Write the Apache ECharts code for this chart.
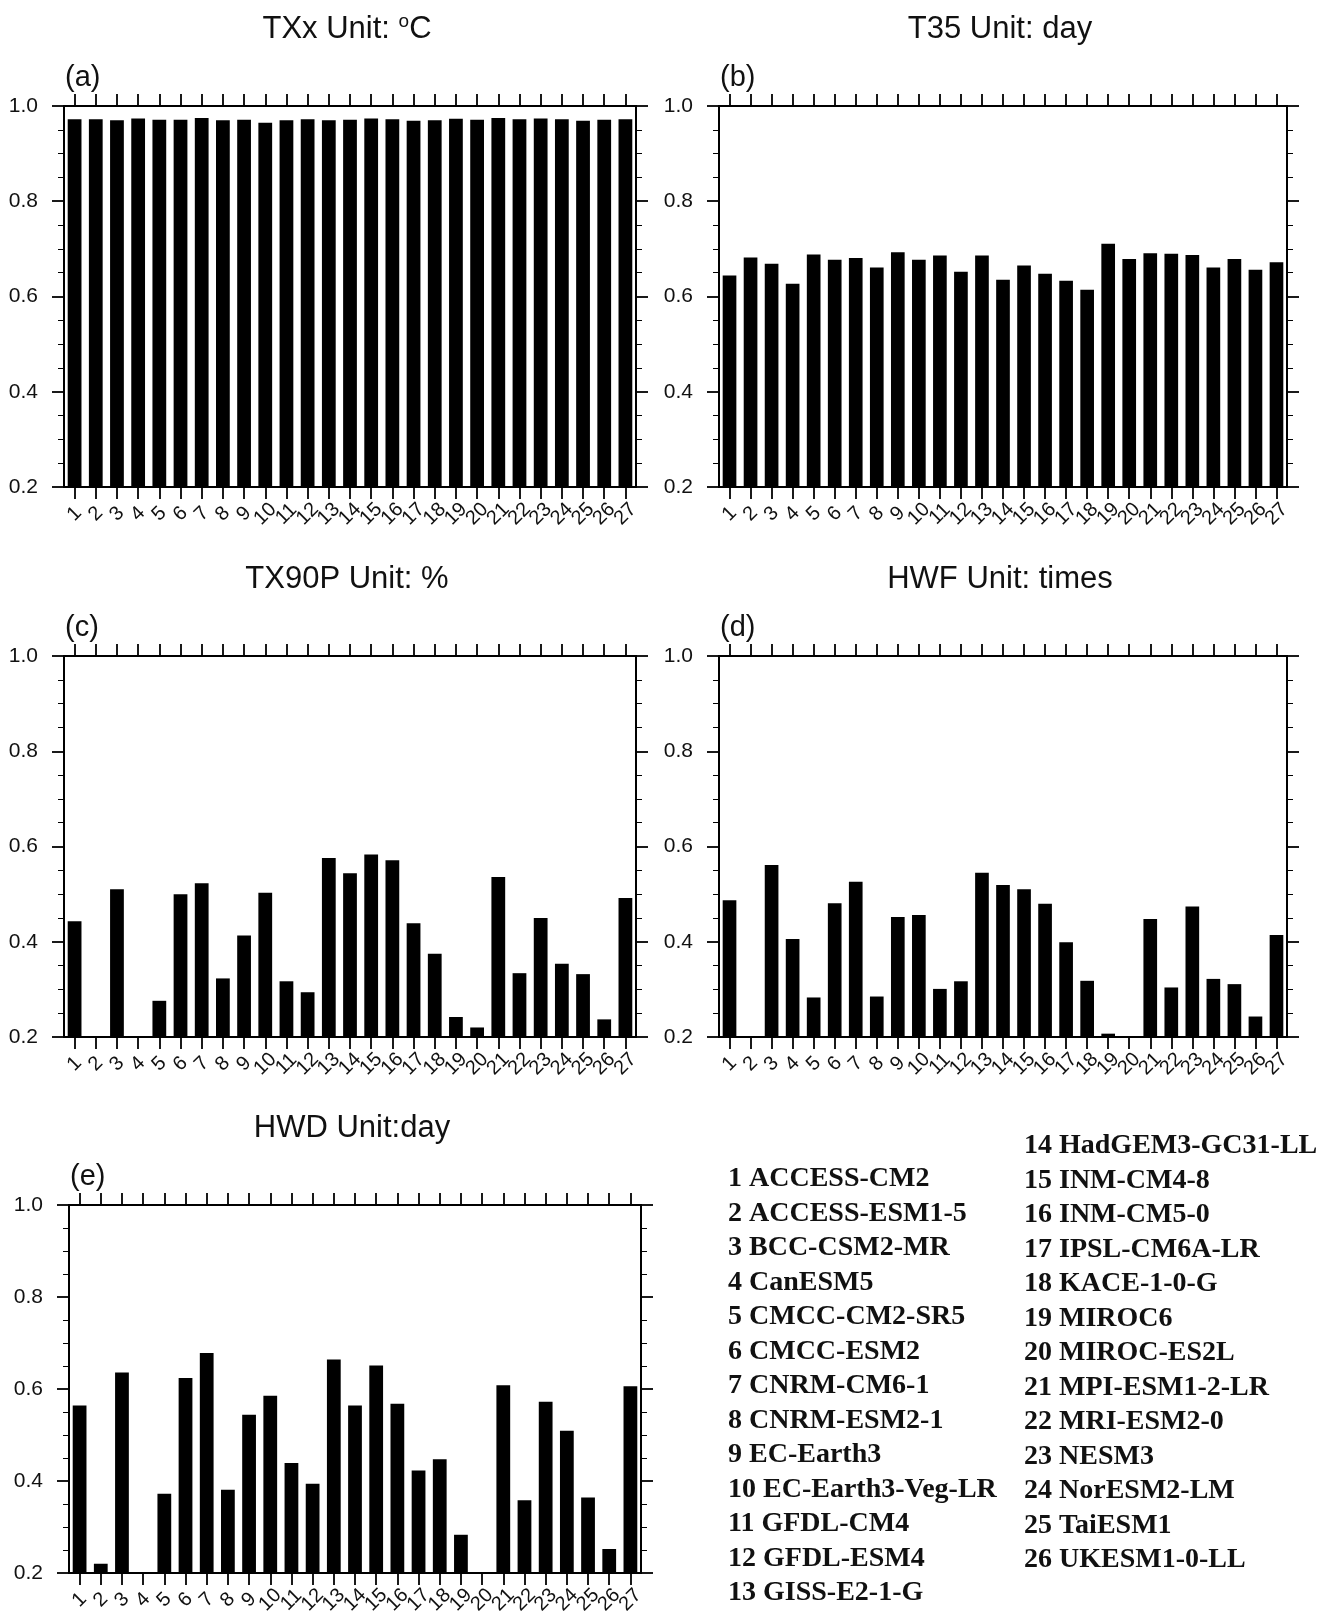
<!DOCTYPE html>
<html>
<head>
<meta charset="utf-8">
<script src="https://cdn.jsdelivr.net/npm/echarts@6/dist/echarts.min.js"></script>
<style>
  html, body { margin: 0; padding: 0; background: #fff; }
  #chart { width: 1341px; height: 1617px; }
</style>
</head>
<body>
<div id="chart"></div>
<script>
// model numbers on the x axis
const cats = ['1','2','3','4','5','6','7','8','9','10','11','12','13','14','15','16','17','18','19','20','21','22','23','24','25','26','27'];

// values (null = bar below 0.2, not drawn)
const txx   = [0.972,0.972,0.970,0.974,0.971,0.971,0.975,0.970,0.971,0.965,0.970,0.972,0.970,0.971,0.974,0.972,0.969,0.970,0.973,0.971,0.975,0.972,0.974,0.972,0.969,0.971,0.972];
const t35   = [0.644,0.682,0.669,0.627,0.688,0.677,0.681,0.661,0.693,0.677,0.686,0.652,0.686,0.635,0.665,0.648,0.633,0.614,0.711,0.679,0.691,0.690,0.687,0.661,0.679,0.656,0.672];
const tx90p = [0.443,null,0.510,null,0.276,0.500,0.523,0.323,0.413,0.503,0.317,0.294,0.576,0.544,0.583,0.571,0.439,0.375,0.242,0.220,0.536,0.334,0.450,0.354,0.332,0.237,0.492];
const hwf   = [0.487,null,0.561,0.406,0.283,0.481,0.526,0.285,0.452,0.456,0.301,0.317,0.545,0.519,0.510,0.480,0.399,0.318,0.207,null,0.448,0.304,0.474,0.322,0.311,0.243,0.414];
const hwd   = [0.564,0.220,0.636,null,0.372,0.624,0.678,0.381,0.544,0.585,0.439,0.394,0.664,0.564,0.651,0.568,0.423,0.447,0.283,null,0.608,0.358,0.572,0.509,0.364,0.252,0.606];

const titles = ['TXx Unit: {sup|o}C', 'T35 Unit: day', 'TX90P Unit: %', 'HWF Unit: times', 'HWD Unit:day'];
const tags = ['(a)', '(b)', '(c)', '(d)', '(e)'];

const models = ['ACCESS-CM2','ACCESS-ESM1-5','BCC-CSM2-MR','CanESM5','CMCC-CM2-SR5','CMCC-ESM2','CNRM-CM6-1','CNRM-ESM2-1','EC-Earth3','EC-Earth3-Veg-LR','GFDL-CM4','GFDL-ESM4','GISS-E2-1-G','HadGEM3-GC31-LL','INM-CM4-8','INM-CM5-0','IPSL-CM6A-LR','KACE-1-0-G','MIROC6','MIROC-ES2L','MPI-ESM1-2-LR','MRI-ESM2-0','NESM3','NorESM2-LM','TaiESM1','UKESM1-0-LL'];

const data = [txx, t35, tx90p, hwf, hwd];

const grids = [
  { left: 64,  top: 106,  width: 572, height: 381 },
  { left: 719, top: 106,  width: 568, height: 381 },
  { left: 64,  top: 656,  width: 572, height: 381 },
  { left: 719, top: 656,  width: 568, height: 381 },
  { left: 69,  top: 1205, width: 572, height: 382 }
];

const sans = 'Liberation Sans, Arial, sans-serif';
const serif = 'Liberation Serif, Times New Roman, serif';

let xAxis = [], yAxis = [], series = [], graphic = [];

grids.forEach((g, i) => {
  g.show = true;
  g.borderColor = '#000';
  g.borderWidth = 2;
  g.containLabel = false;

  const tick = { show: true, interval: 0, alignWithLabel: true, length: 12,
                 lineStyle: { color: '#000', width: 1.8 } };
  xAxis.push({
    type: 'category', gridIndex: i, position: 'bottom', data: cats,
    axisLine: { show: true, lineStyle: { color: '#000', width: 2 } },
    axisTick: tick,
    axisLabel: { rotate: 45, fontSize: 20, fontFamily: sans, color: '#111',
                 margin: 27, interval: 0, align: 'center', verticalAlign: 'middle' }
  });
  xAxis.push({
    type: 'category', gridIndex: i, position: 'top', data: cats,
    axisLine: { show: true, lineStyle: { color: '#000', width: 2 } },
    axisTick: tick,
    axisLabel: { show: false }
  });
  const yBase = {
    type: 'value', gridIndex: i, min: 0.2, max: 1.0, interval: 0.2,
    splitLine: { show: false },
    axisLine: { show: true, lineStyle: { color: '#000', width: 2 } },
    axisTick: { show: true, length: 12, lineStyle: { color: '#000', width: 1.8 } },
    minorTick: { show: true, splitNumber: 4, length: 6, lineStyle: { color: '#000', width: 1 } }
  };
  yAxis.push(Object.assign({}, yBase, {
    position: 'left',
    axisLabel: { fontSize: 21, fontFamily: sans, color: '#111', margin: 26,
                 formatter: v => v.toFixed(1) }
  }));
  yAxis.push(Object.assign({}, yBase, {
    position: 'right',
    axisLabel: { show: false }
  }));

  series.push({
    type: 'bar', xAxisIndex: 2 * i, yAxisIndex: 2 * i,
    data: data[i], barWidth: '65%',
    itemStyle: { color: '#000' },
    silent: true
  });

  // panel title and tag
  graphic.push({
    type: 'text', x: g.left + g.width / 2 - 3, y: g.top - 77,
    style: { text: titles[i], fontSize: 31, fontFamily: sans, fill: '#111',
             align: 'center', verticalAlign: 'middle',
             rich: { sup: { fontSize: 19, fontFamily: sans, fill: '#111', verticalAlign: 'top', padding: [0, 0, 14, 0] } } }
  });
  graphic.push({
    type: 'text', x: g.left + 1, y: g.top - 28,
    style: { text: tags[i], fontSize: 29, fontFamily: sans, fill: '#111',
             align: 'left', verticalAlign: 'middle' }
  });
});

// model list
models.forEach((m, k) => {
  const col = k < 13 ? 0 : 1;
  const row = k % 13;
  graphic.push({
    type: 'text',
    x: col === 0 ? 728 : 1024,
    y: (col === 0 ? 1179 : 1146) + row * 34.5,
    style: { text: (k + 1) + ' ' + m, fontSize: 28, fontFamily: serif, fontWeight: 'bold',
             fill: '#111', align: 'left', verticalAlign: 'middle' }
  });
});

const chart = echarts.init(document.getElementById('chart'));
chart.setOption({
  animation: false,
  backgroundColor: '#fff',
  grid: grids,
  xAxis: xAxis,
  yAxis: yAxis,
  series: series,
  graphic: graphic
});
</script>
</body>
</html>
